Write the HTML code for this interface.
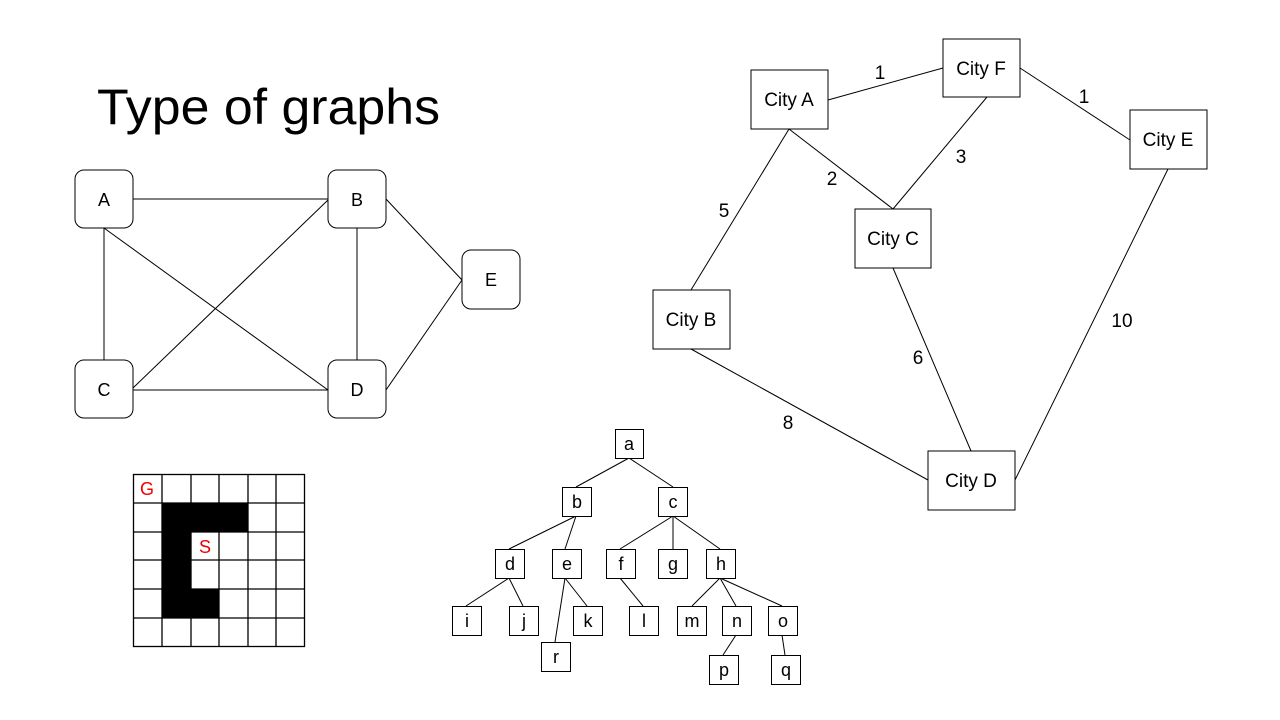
<!DOCTYPE html>
<html><head><meta charset="utf-8"><style>
html,body{margin:0;padding:0;background:#fff;}
svg{display:block;font-family:"Liberation Sans",sans-serif;}
</style></head><body>
<svg width="1280" height="720" viewBox="0 0 1280 720" xmlns="http://www.w3.org/2000/svg">
<text x="97" y="124" font-size="50" fill="#000" textLength="343" lengthAdjust="spacingAndGlyphs">Type of graphs</text>

<g stroke="#000" stroke-width="1" fill="none">
<line x1="133" y1="199" x2="328" y2="199"/>
<line x1="104" y1="228" x2="104" y2="360"/>
<line x1="104" y1="228" x2="328" y2="390"/>
<line x1="133" y1="388" x2="328" y2="200"/>
<line x1="133" y1="390" x2="328" y2="390"/>
<line x1="357" y1="228" x2="357" y2="360"/>
<line x1="386" y1="199" x2="462" y2="280"/>
<line x1="386" y1="390" x2="462" y2="280"/>
</g>
<g stroke="#000" stroke-width="1" fill="#fff">
<rect x="75" y="170" width="58" height="58" rx="9"/>
<rect x="328" y="170" width="58" height="58" rx="9"/>
<rect x="75" y="360" width="58" height="58" rx="9"/>
<rect x="328" y="360" width="58" height="58" rx="9"/>
<rect x="462" y="250" width="58" height="59" rx="9"/>
</g>
<g font-size="18" text-anchor="middle">
<text x="104" y="206">A</text><text x="357" y="206">B</text>
<text x="104" y="396">C</text><text x="357" y="396">D</text>
<text x="491" y="286">E</text>
</g>

<g stroke="#000" stroke-width="1" fill="none">
<line x1="828" y1="100" x2="943" y2="68"/>
<line x1="1020" y1="68" x2="1130" y2="140"/>
<line x1="789" y1="129" x2="893" y2="209"/>
<line x1="987" y1="97" x2="893" y2="209"/>
<line x1="789" y1="129" x2="691" y2="290"/>
<line x1="893" y1="268" x2="971" y2="451"/>
<line x1="691" y1="349" x2="928" y2="480"/>
<line x1="1168" y1="169" x2="1015" y2="480"/>
</g>
<g stroke="#000" stroke-width="1" fill="#fff">
<rect x="751" y="70" width="77" height="59"/>
<rect x="943" y="39" width="77" height="58"/>
<rect x="1130" y="110" width="77" height="59"/>
<rect x="855" y="209" width="76" height="59"/>
<rect x="653" y="290" width="77" height="59"/>
<rect x="928" y="451" width="87" height="59"/>
</g>
<g font-size="19" text-anchor="middle">
<text x="789" y="106">City A</text>
<text x="981" y="75">City F</text>
<text x="1168" y="146">City E</text>
<text x="893" y="245">City C</text>
<text x="691" y="326">City B</text>
<text x="971" y="487">City D</text>
<text x="880" y="79">1</text>
<text x="1084" y="103">1</text>
<text x="832" y="185">2</text>
<text x="961" y="163">3</text>
<text x="724" y="217">5</text>
<text x="918" y="364">6</text>
<text x="788" y="429">8</text>
<text x="1122" y="327">10</text>
</g>

<g stroke="#000" stroke-width="1.3">
<rect x="162" y="503" width="86" height="29" fill="#000" stroke="none"/>
<rect x="162" y="503" width="29" height="115" fill="#000" stroke="none"/>
<rect x="162" y="589" width="57" height="29" fill="#000" stroke="none"/>
<g fill="none">
<rect x="133.5" y="474.5" width="171" height="172"/>
<line x1="162" y1="474" x2="162" y2="647"/><line x1="191" y1="474" x2="191" y2="647"/>
<line x1="219" y1="474" x2="219" y2="647"/><line x1="248" y1="474" x2="248" y2="647"/>
<line x1="276" y1="474" x2="276" y2="647"/>
<line x1="133" y1="503" x2="305" y2="503"/><line x1="133" y1="532" x2="305" y2="532"/>
<line x1="133" y1="560" x2="305" y2="560"/><line x1="133" y1="589" x2="305" y2="589"/>
<line x1="133" y1="618" x2="305" y2="618"/>
</g>
</g>
<text x="147" y="495" font-size="18" fill="#e00" text-anchor="middle">G</text>
<text x="205" y="553" font-size="18" fill="#e00" text-anchor="middle">S</text>

<g stroke="#000" stroke-width="1" fill="none">
<line x1="629" y1="458" x2="576" y2="487"/><line x1="629" y1="458" x2="673" y2="487"/>
<line x1="576" y1="516" x2="509" y2="549"/><line x1="576" y1="516" x2="565" y2="549"/>
<line x1="673" y1="516" x2="620" y2="549"/><line x1="673" y1="516" x2="673" y2="549"/><line x1="673" y1="516" x2="720" y2="549"/>
<line x1="509" y1="578" x2="466" y2="606"/><line x1="509" y1="578" x2="523" y2="606"/>
<line x1="565" y1="578" x2="555" y2="642"/><line x1="565" y1="578" x2="587" y2="606"/>
<line x1="620" y1="578" x2="643" y2="606"/>
<line x1="720" y1="578" x2="692" y2="606"/><line x1="720" y1="578" x2="736" y2="606"/><line x1="720" y1="578" x2="782" y2="606"/>
<line x1="736" y1="635" x2="723" y2="655"/><line x1="782" y1="635" x2="785" y2="655"/>
</g>
<g stroke="#000" stroke-width="1" fill="#fff">
<rect x="615.5" y="429.5" width="28" height="29"/>
<rect x="562.5" y="487.5" width="29" height="29"/>
<rect x="658.5" y="487.5" width="29" height="29"/>
<rect x="495.5" y="549.5" width="29" height="29"/>
<rect x="552.5" y="549.5" width="29" height="29"/>
<rect x="606.5" y="549.5" width="29" height="29"/>
<rect x="658.5" y="549.5" width="29" height="29"/>
<rect x="706.5" y="549.5" width="29" height="29"/>
<rect x="452.5" y="606.5" width="29" height="29"/>
<rect x="509.5" y="606.5" width="29" height="29"/>
<rect x="573.5" y="606.5" width="29" height="29"/>
<rect x="629.5" y="606.5" width="29" height="29"/>
<rect x="677.5" y="606.5" width="29" height="29"/>
<rect x="722.5" y="606.5" width="29" height="29"/>
<rect x="768.5" y="606.5" width="29" height="29"/>
<rect x="541.5" y="642.5" width="29" height="29"/>
<rect x="709.5" y="655.5" width="29" height="29"/>
<rect x="771.5" y="655.5" width="29" height="29"/>
</g>
<g font-size="18" text-anchor="middle">
<text x="629" y="450">a</text>
<text x="577" y="508">b</text><text x="673" y="508">c</text>
<text x="510" y="570">d</text><text x="567" y="570">e</text><text x="621" y="570">f</text>
<text x="673" y="570">g</text><text x="721" y="570">h</text>
<text x="467" y="627">i</text><text x="524" y="627">j</text><text x="588" y="627">k</text>
<text x="644" y="627">l</text><text x="692" y="627">m</text><text x="737" y="627">n</text>
<text x="783" y="627">o</text>
<text x="556" y="663">r</text><text x="724" y="676">p</text><text x="786" y="676">q</text>
</g>
</svg>
</body></html>
